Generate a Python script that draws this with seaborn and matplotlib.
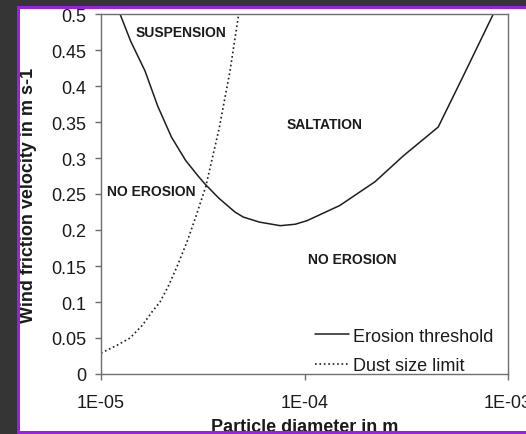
import matplotlib
matplotlib.use("Agg")
import matplotlib.pyplot as plt
import seaborn as sns
from matplotlib.patches import Rectangle
from matplotlib.ticker import FixedLocator, FuncFormatter, NullLocator

# Erosion threshold (solid line)
erosion_d = [1.24e-5, 1.4e-5, 1.645e-5, 1.9e-5, 2.22e-5, 2.6e-5, 3.0e-5, 3.24e-5,
             3.8e-5, 4.55e-5, 5.0e-5, 6.0e-5, 7.6e-5, 9.0e-5, 1.03e-4, 1.49e-4,
             2.22e-4, 3.06e-4, 4.54e-4, 6.03e-4, 8.47e-4]
erosion_u = [0.500, 0.462, 0.421, 0.372, 0.329, 0.297, 0.275, 0.264,
             0.244, 0.225, 0.218, 0.211, 0.206, 0.208, 0.213, 0.234,
             0.267, 0.303, 0.343, 0.414, 0.500]

# Dust size limit (dotted line)
dust_d = [1.0e-5, 1.2e-5, 1.39e-5, 1.6e-5, 1.8e-5, 1.95e-5, 2.15e-5, 2.37e-5,
          2.65e-5, 2.92e-5, 3.27e-5, 3.8e-5, 4.3e-5, 4.75e-5]
dust_u = [0.029, 0.040, 0.050, 0.068, 0.088, 0.100, 0.123, 0.150,
          0.184, 0.218, 0.260, 0.340, 0.420, 0.500]

y_ticks = [0, 0.05, 0.1, 0.15, 0.2, 0.25, 0.3, 0.35, 0.4, 0.45, 0.5]
x_ticks = [1e-5, 1e-4, 1e-3]

# region labels: (text, x, y)
regions = [("SUSPENSION", 2.46e-5, 0.475),
           ("SALTATION", 1.256e-4, 0.347),
           ("NO EROSION", 1.77e-5, 0.254),
           ("NO EROSION", 1.72e-4, 0.160)]

sns.set_style("white")
plt.rcParams['font.family'] = ['Liberation Sans', 'DejaVu Sans']

W, H = 526, 435
fig = plt.figure(figsize=(W / 100, H / 100), dpi=100, facecolor='white')
ax = fig.add_axes([101 / W, (H - 375) / H, (508 - 101) / W, 360 / H])

sns.lineplot(x=erosion_d, y=erosion_u, ax=ax, color='#1e1e1e', linewidth=1.1,
             label='Erosion threshold', sort=False, estimator=None)
sns.lineplot(x=dust_d, y=dust_u, ax=ax, color='#1e1e1e', linewidth=1.2,
             linestyle=':', label='Dust size limit', sort=False, estimator=None)

ax.set_xscale('log')
ax.set_xlim(1e-5, 1e-3)
ax.set_ylim(0, 0.5)
ax.xaxis.set_major_locator(FixedLocator(x_ticks))
ax.xaxis.set_minor_locator(NullLocator())
ax.xaxis.set_major_formatter(FuncFormatter(lambda v, p: f"{v:.0E}"))
ax.set_yticks(y_ticks)
ax.set_yticklabels([f"{v:g}" for v in y_ticks])

for s in ax.spines.values():
    s.set_color('#6e6e6e')
    s.set_linewidth(1.0)
ax.tick_params(axis='both', direction='out', length=4.5, width=1.0,
               color='#6e6e6e', labelsize=13, labelcolor='#1a1a1a')
ax.tick_params(axis='x', pad=10)
ax.tick_params(axis='y', pad=6)
ax.tick_params(left=True, bottom=True)

ax.set_xlabel('Particle diameter in m', fontsize=13, fontweight='bold', color='#1a1a1a')
ax.set_ylabel('Wind friction velocity in m s-1', fontsize=13, fontweight='bold', color='#1a1a1a')
ax.xaxis.set_label_coords(0.5, -0.121)
ax.yaxis.set_label_coords(-0.157, 0.5)

for txt, x, y in regions:
    ax.text(x, y, txt, fontsize=10, fontweight='bold', color='#1a1a1a',
            ha='center', va='center')

leg = ax.legend(loc='lower right', bbox_to_anchor=(0.965, 0.0), frameon=False,
                fontsize=13, handlelength=1.9, handletextpad=0.25,
                labelspacing=0.68, borderpad=0, borderaxespad=0)
for t in leg.get_texts():
    t.set_color('#1a1a1a')

# dark surround and purple frame of the screenshot
dark = '#353535'
purple = '#9b1fe6'
fig.add_artist(Rectangle((0, 0), 17 / W, 1, transform=fig.transFigure,
                         facecolor=dark, edgecolor='none', zorder=10))
fig.add_artist(Rectangle((0, (H - 7) / H), 1, 7 / H, transform=fig.transFigure,
                         facecolor=dark, edgecolor='none', zorder=10))
fig.add_artist(Rectangle((17 / W, 0), 2.5 / W, (H - 7) / H, transform=fig.transFigure,
                         facecolor=purple, edgecolor='none', zorder=11))
fig.add_artist(Rectangle((17 / W, (H - 9.5) / H), 1, 2.5 / H, transform=fig.transFigure,
                         facecolor=purple, edgecolor='none', zorder=11))
fig.add_artist(Rectangle((17 / W, 0.5 / H), 1, 2.5 / H, transform=fig.transFigure,
                         facecolor=purple, edgecolor='none', zorder=11))

fig.savefig('out.png', dpi=100, facecolor='white')
